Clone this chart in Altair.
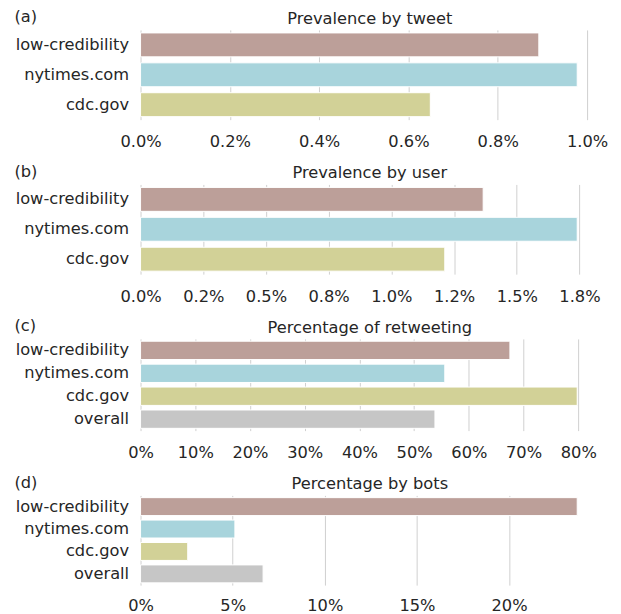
import altair as alt
import pandas as pd

# ---- data ----
cats3 = ["low-credibility", "nytimes.com", "cdc.gov"]
cats4 = ["low-credibility", "nytimes.com", "cdc.gov", "overall"]

tweet_vals = [0.00892, 0.00978, 0.00649]
user_vals = [0.01366, 0.01741, 0.01213]
retweet_vals = [0.675, 0.556, 0.798, 0.538]
bot_vals = [0.237, 0.0512, 0.0256, 0.0665]

letters = ["(a)", "(b)", "(c)", "(d)"]
titles = ["Prevalence by tweet", "Prevalence by user",
          "Percentage of retweeting", "Percentage by bots"]

tweet_ticks = [0, 0.002, 0.004, 0.006, 0.008, 0.010]
user_ticks = [0, 0.0025, 0.005, 0.0075, 0.01, 0.0125, 0.015, 0.0175]
user_tick_labels = ["0.0%", "0.2%", "0.5%", "0.8%", "1.0%", "1.2%", "1.5%", "1.8%"]
retweet_ticks = [0, 0.1, 0.2, 0.3, 0.4, 0.5, 0.6, 0.7, 0.8]
bot_ticks = [0, 0.05, 0.10, 0.15, 0.20]

color_domain = ["low-credibility", "nytimes.com", "cdc.gov", "overall"]
color_range = ["#bc9f99", "#a8d4dc", "#d2d197", "#c6c6c6"]

TEXT = "#262626"
FONT = "DejaVu Sans"
FS = 16.3


def label_expr(ticks, labels):
    expr = "'" + labels[-1] + "'"
    for i in range(len(ticks) - 2, -1, -1):
        mid = (ticks[i] + ticks[i + 1]) / 2
        expr = f"datum.value < {mid} ? '{labels[i]}' : ({expr})"
    return expr


def panel(letter, title, cats, vals, ticks, height, fmt=None, labels=None, lpad=14):
    df = pd.DataFrame({"cat": cats, "val": vals})
    xmax = max(vals) * 1.05
    ax = dict(values=ticks, title=None, grid=True, ticks=False, tickSize=0,
              domain=False, labelFontSize=FS, labelPadding=lpad, labelColor=TEXT,
              gridColor="#d0d0d0", gridWidth=1, labelFont=FONT,
              labelFlush=False, labelOverlap=False)
    if labels is not None:
        ax["labelExpr"] = label_expr(ticks, labels)
    else:
        ax["format"] = fmt
    x = alt.X("val:Q", scale=alt.Scale(domain=[0, xmax], nice=False, zero=True),
              axis=alt.Axis(**ax))
    y = alt.Y("cat:N", sort=cats,
              scale=alt.Scale(paddingInner=0.2, paddingOuter=0.1),
              axis=alt.Axis(title=letter, titleAngle=0, titleAlign="left",
                            titleBaseline="middle", titleX=-127, titleY=-13,
                            titleFontSize=FS, titleFontWeight="normal",
                            titleColor=TEXT, titleFont=FONT,
                            labelFontSize=FS, labelColor=TEXT, labelFont=FONT,
                            ticks=False, tickSize=0, domain=False,
                            labelPadding=12, grid=False))
    color = alt.Color("cat:N", scale=alt.Scale(domain=color_domain, range=color_range),
                      legend=None)
    return (
        alt.Chart(df)
        .mark_bar(stroke="white", strokeWidth=1)
        .encode(x=x, y=y, color=color)
        .properties(
            width=460, height=height,
            title=alt.TitleParams(title, fontSize=FS, fontWeight="normal",
                                  frame="group", anchor="middle", offset=-31,
                                  baseline="alphabetic", color=TEXT, font=FONT),
        )
    )


pa = panel(letters[0], titles[0], cats3, tweet_vals, tweet_ticks, 90, fmt=".1%")
pb = panel(letters[1], titles[1], cats3, user_vals, user_ticks, 90, labels=user_tick_labels)
pc = panel(letters[2], titles[2], cats4, retweet_vals, retweet_ticks, 92, fmt=".0%")
pd_ = panel(letters[3], titles[3], cats4, bot_vals, bot_ticks, 90, fmt=".0%", lpad=12)

chart = (
    alt.vconcat(pa, pb, pc, pd_, spacing=13)
    .properties(padding={"left": 6, "top": 0, "right": 5, "bottom": 5})
    .configure(font=FONT, background="white")
    .configure_view(strokeWidth=0, stroke="transparent")
)

chart.save("out.html", embed_options={"renderer": "svg", "actions": False})
